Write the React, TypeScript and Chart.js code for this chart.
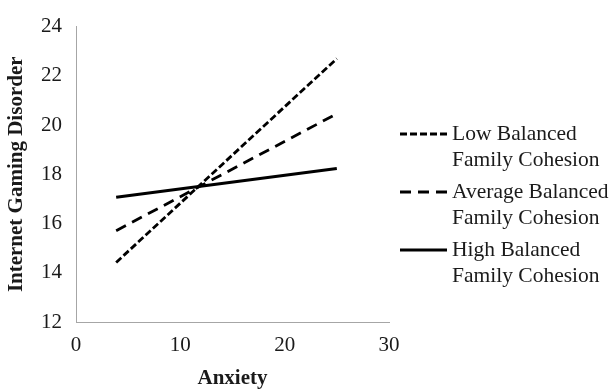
import React, { useEffect, useRef } from "react";
import { Chart, registerables } from "chart.js";

Chart.register(...registerables);

const anxiety = [3.85, 25];
const lowCohesion = [14.42, 22.7];
const averageCohesion = [15.71, 20.46];
const highCohesion = [17.07, 18.24];
const seriesLabels = [
  ["Low Balanced", "Family Cohesion"],
  ["Average Balanced", "Family Cohesion"],
  ["High Balanced", "Family Cohesion"],
];
const xTicks = [0, 10, 20, 30];
const yTicks = [12, 14, 16, 18, 20, 22, 24];

const FONT = "'Liberation Serif', 'Times New Roman', serif";
const TEXT = "#1a1a1a";
const dashes = [[7, 3], [11, 7], []];
const widths = [2.8, 2.8, 3];

const legendPlugin = {
  id: "customLegend",
  afterDraw(chart: any) {
    const ctx = chart.ctx;
    ctx.save();
    const x0 = 400;
    const x1 = 447;
    const tx = 452;
    const baseY = 134;
    const rowGap = 58;
    const lineGap = 26.5;
    seriesLabels.forEach((lines, i) => {
      const y = baseY + i * rowGap;
      ctx.beginPath();
      ctx.setLineDash(dashes[i]);
      ctx.lineWidth = widths[i];
      ctx.strokeStyle = "#000";
      ctx.moveTo(x0, y);
      ctx.lineTo(x1, y);
      ctx.stroke();
      ctx.setLineDash([]);
      ctx.fillStyle = TEXT;
      ctx.font = `21.5px ${FONT}`;
      ctx.textBaseline = "middle";
      ctx.textAlign = "left";
      lines.forEach((t, j) => ctx.fillText(t, tx, y + j * lineGap));
    });
    ctx.restore();
  },
};

export default function App() {
  const ref = useRef<HTMLCanvasElement>(null);
  useEffect(() => {
    document.body.style.margin = "0";
    const series = [lowCohesion, averageCohesion, highCohesion];
    const chart = new Chart(ref.current!, {
      type: "line",
      data: {
        datasets: series.map((vals, i) => ({
          label: seriesLabels[i].join(" "),
          data: anxiety.map((x, k) => ({ x, y: vals[k] })),
          borderColor: "#000",
          borderWidth: widths[i],
          borderDash: dashes[i],
          pointRadius: 0,
          fill: false,
          tension: 0,
        })),
      },
      options: {
        animation: false,
        responsive: true,
        maintainAspectRatio: false,
        layout: { padding: { top: 19, right: 223, left: 0, bottom: 0 } },
        plugins: { legend: { display: false }, tooltip: { enabled: false } },
        scales: {
          x: {
            type: "linear",
            min: 0,
            max: 30,
            afterBuildTicks: (s: any) => {
              s.ticks = xTicks.map((v) => ({ value: v }));
            },
            afterFit: (s: any) => {
              s.height = 67;
            },
            grid: { display: false, drawTicks: false },
            border: { display: true, color: "#a6a6a6", width: 1 },
            ticks: { font: { family: FONT, size: 21 }, color: TEXT, padding: 11 },
            title: {
              display: true,
              text: "Anxiety",
              font: { family: FONT, size: 21, weight: "bold" },
              color: TEXT,
              padding: { top: 0, bottom: -2 },
            },
          },
          y: {
            type: "linear",
            min: 12,
            max: 24,
            afterBuildTicks: (s: any) => {
              s.ticks = yTicks.map((v) => ({ value: v }));
            },
            afterFit: (s: any) => {
              s.width = 76;
            },
            grid: { display: false, drawTicks: false },
            border: { display: true, color: "#a6a6a6", width: 1 },
            ticks: { font: { family: FONT, size: 21 }, color: TEXT, padding: 14 },
            title: {
              display: true,
              text: "Internet Gaming Disorder",
              font: { family: FONT, size: 21, weight: "bold" },
              color: TEXT,
              padding: { top: 4, bottom: 4 },
            },
          },
        },
      },
      plugins: [legendPlugin],
    } as any);
    return () => chart.destroy();
  }, []);
  return (
    <div style={{ width: 612, height: 389, position: "relative" }}>
      <canvas ref={ref} />
    </div>
  );
}
